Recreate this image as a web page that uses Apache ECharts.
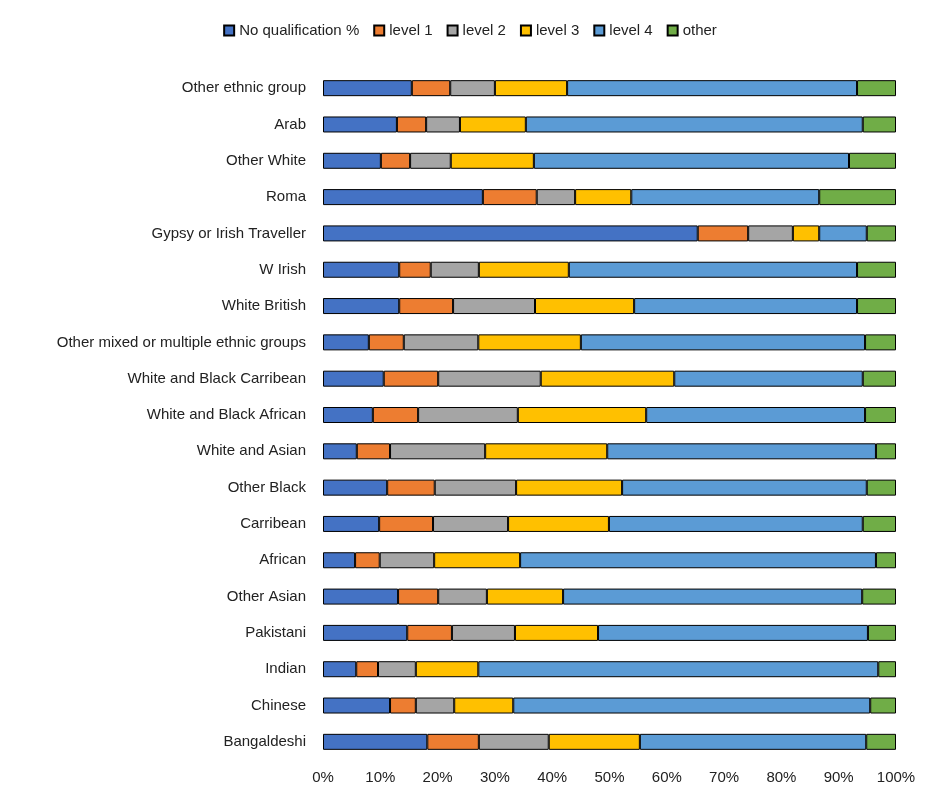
<!DOCTYPE html>
<html lang="en">
<head>
    <meta charset="utf-8">
    <script src="https://cdn.jsdelivr.net/npm/echarts@6/dist/echarts.min.js"></script>
    <title></title>
</head>
<body style="margin:0">
<div id="main" style="width: 940px;height:809px;"></div>
<script type="text/javascript">
    var groups = ['Bangaldeshi', 'Chinese', 'Indian', 'Pakistani', 'Other Asian', 'African', 'Carribean',
        'Other Black', 'White and Asian', 'White and Black African', 'White and Black Carribean',
        'Other mixed or multiple ethnic groups', 'White British', 'W Irish', 'Gypsy or Irish Traveller',
        'Roma', 'Other White', 'Arab', 'Other ethnic group'];
    var seriesNames = ['No qualification %', 'level 1', 'level 2', 'level 3', 'level 4', 'other'];
    var noQual = [18.2, 11.7, 5.8, 14.7, 13.1, 5.6, 9.8, 11.2, 5.9, 8.7, 10.6, 8.0, 13.3, 13.3, 65.4, 27.9, 10.1, 12.9, 15.5];
    var level1 = [9.0, 4.5, 3.8, 7.8, 7.0, 4.3, 9.4, 8.3, 5.8, 7.9, 9.5, 6.1, 9.4, 5.5, 8.8, 9.4, 5.1, 5.1, 6.7];
    var level2 = [12.2, 6.7, 6.6, 11.0, 8.5, 9.5, 13.1, 14.2, 16.6, 17.4, 17.9, 13.0, 14.3, 8.4, 7.8, 6.7, 7.1, 5.9, 7.8];
    var level3 = [15.9, 10.3, 10.9, 14.5, 13.3, 15.0, 17.6, 18.5, 21.3, 22.4, 23.3, 17.9, 17.3, 15.7, 4.6, 9.8, 14.5, 11.5, 12.6];
    var level4 = [39.5, 62.3, 69.8, 47.1, 52.2, 62.1, 44.3, 42.7, 46.9, 38.2, 32.9, 49.6, 38.9, 50.3, 8.3, 32.8, 55.0, 58.8, 50.6];
    var other = [5.2, 4.5, 3.1, 4.9, 5.9, 3.5, 5.8, 5.1, 3.5, 5.4, 5.8, 5.4, 6.8, 6.8, 5.1, 13.4, 8.2, 5.8, 6.8];
    var values = [noQual, level1, level2, level3, level4, other];
    var colors = ['#4472C4', '#ED7D31', '#A5A5A5', '#FFC000', '#5B9BD5', '#70AD47'];

    var myChart = echarts.init(document.getElementById('main'));
    var option = {
        animation: false,
        color: colors,
        textStyle: {fontFamily: 'Liberation Sans', color: '#000'},
        legend: {
            top: 18, left: 'center', itemWidth: 10, itemHeight: 10, itemGap: 14,
            textStyle: {fontSize: 15, color: '#222'},
            data: seriesNames.map(function (n) { return {name: n, icon: 'rect'}; })
        },
        grid: {left: 323, right: 44, top: 70, bottom: 49},
        xAxis: {
            type: 'value', min: 0, max: 100, interval: 10,
            axisLabel: {formatter: '{value}%', fontSize: 15, color: '#222', margin: 10},
            splitLine: {show: false},
            axisLine: {show: false}, axisTick: {show: false}
        },
        yAxis: {
            type: 'category', data: groups,
            axisLabel: {fontSize: 15, color: '#222', margin: 17},
            axisLine: {show: false}, axisTick: {show: false}
        },
        series: seriesNames.map(function (name, i) {
            return {
                name: name, type: 'bar', stack: 'total', barWidth: 16,
                itemStyle: {borderColor: '#000', borderWidth: 1},
                data: values[i]
            };
        })
    };
    myChart.setOption(option);
</script>
</body>
</html>
